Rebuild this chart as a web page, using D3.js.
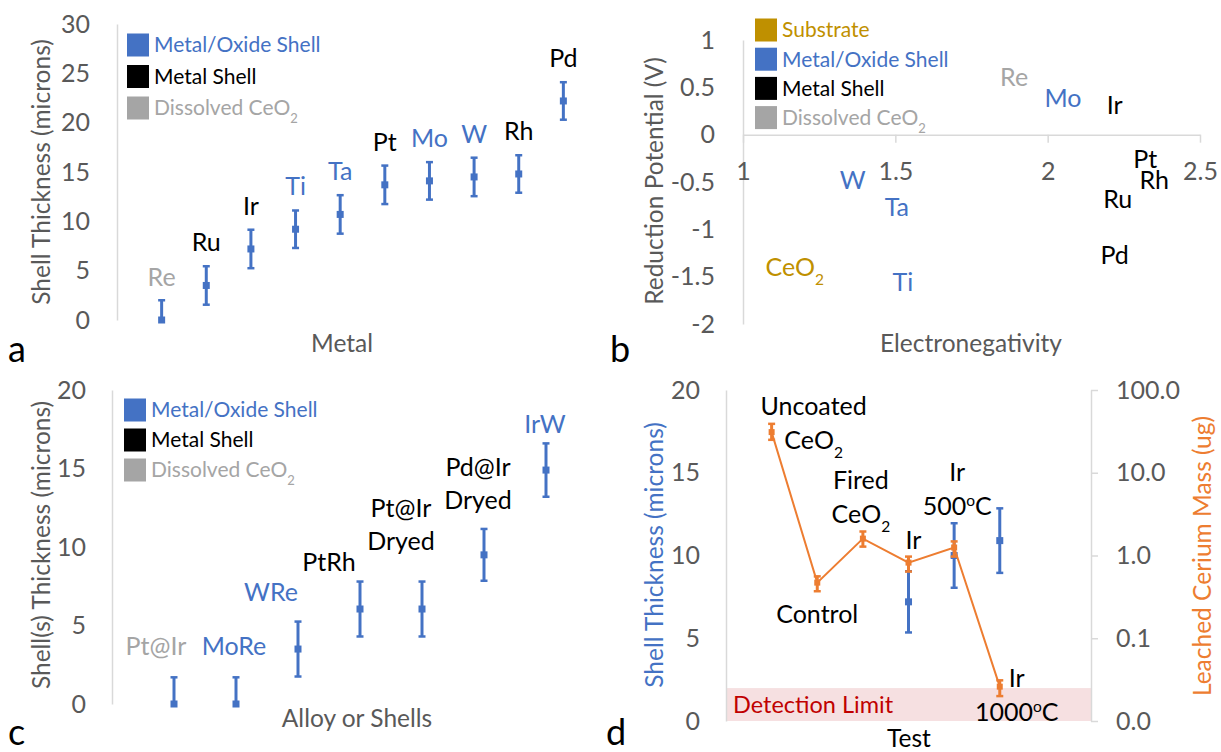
<!DOCTYPE html>
<head>
<meta charset="utf-8">
<script src="https://d3js.org/d3.v7.min.js"></script>
<style>
  body { margin:0; background:#fff; }
  svg text { font-family: Lato, "Open Sans", sans-serif; }
  .axis path, .axis line { stroke:#d9d9d9; stroke-width:1.5px; }
  .axis text { font-family: Lato, sans-serif; font-size:25px; fill:#595959; }
</style>
</head>
<body>
<svg id="fig" width="1221" height="752"></svg>
<script>
// ---------- data ----------
// a: shell thickness per metal
var aMetals    = ["Re","Ru","Ir","Ti","Ta","Pt","Mo","W","Rh","Pd"];
var aThickness = [0, 3.5, 7.2, 9.2, 10.7, 13.7, 14.1, 14.5, 14.8, 22.2];
var aError     = [2.0, 1.95, 1.95, 1.9, 1.95, 1.95, 1.9, 1.95, 1.9, 1.9];
var aType      = ["dissolved","metal","metal","oxide","oxide","metal","oxide","oxide","metal","metal"];

// b: reduction potential vs electronegativity
var bNames     = ["CeO_2","W","Ta","Ti","Re","Mo","Ir","Ru","Pd","Pt","Rh"];
var bElectro   = [1.17, 1.36, 1.505, 1.525, 1.89, 2.05, 2.22, 2.23, 2.22, 2.32, 2.35];
var bPotential = [-1.40, -0.48, -0.77, -1.56, 0.61, 0.38, 0.31, -0.68, -1.27, -0.26, -0.48];
var bType      = ["substrate","oxide","oxide","oxide","dissolved","oxide","metal","metal","metal","metal","metal"];

// c: alloys / double shells
var cNames     = ["Pt@Ir","MoRe","WRe","PtRh","Pt@Ir Dryed","Pd@Ir Dryed","IrW"];
var cThickness = [0, 0, 3.5, 6.05, 6.05, 9.5, 14.9];
var cError     = [1.7, 1.7, 1.75, 1.75, 1.75, 1.65, 1.7];
var cType      = ["dissolved","oxide","oxide","metal","metal","metal","oxide"];

// d: leaching test
var dTests     = ["Uncoated CeO_2","Control","Fired CeO_2","Ir","Ir 500^oC","Ir 1000^oC"];
var dShell     = [null, null, null, 7.2, 10.0, 10.9];
var dShellErr  = [null, null, null, 1.85, 1.95, 1.95];
var dCerium    = [31, 0.47, 1.6, 0.82, 1.25, 0.026];
var dCeriumLo  = [25, 0.37, 1.28, 0.64, 0.97, 0.020];
var dCeriumHi  = [39, 0.56, 1.95, 0.97, 1.48, 0.031];
var detectionLimit = 0.025;

var legendAll = [["substrate","Substrate"],["oxide","Metal/Oxide Shell"],["metal","Metal Shell"],["dissolved","Dissolved CeO_2"]];

// ---------- style ----------
var BLUE="#4472c4", ORANGE="#ed7d31", GOLD="#bf9000", GRAY="#a5a5a5", TXT="#595959";
var typeColor = {oxide:BLUE, metal:"#000", dissolved:GRAY, substrate:GOLD};

var svg = d3.select("#fig");

// "_x" = subscript, "^x" = superscript
function rich(sel, str) {
  str.split(/([_^].)/).forEach(function(p) {
    if (!p) return;
    if (p[0] == "_") sel.append("tspan").attr("baseline-shift","sub").attr("font-size","0.62em").text(p[1]);
    else if (p[0] == "^") sel.append("tspan").attr("baseline-shift","super").attr("font-size","0.62em").text(p[1]);
    else sel.append("tspan").text(p);
  });
}

function legend(items, x, y0, step) {
  var g = svg.append("g");
  items.forEach(function(it, i) {
    var y = y0 + i*step;
    g.append("rect").attr("x", x).attr("y", y-11.5).attr("width", 22).attr("height", 23)
      .attr("fill", typeColor[it[0]]);
    rich(g.append("text").attr("x", x+27).attr("y", y).attr("dy","0.35em")
      .attr("font-size", 21).attr("fill", typeColor[it[0]]), it[1]);
  });
}

function title(txt, x, y, color, rot, size) {
  var t = svg.append("text").attr("text-anchor","middle").attr("dy","0.35em")
    .attr("font-size", size || 24.5).attr("fill", color || TXT).text(txt);
  t.attr("transform", "translate(" + x + "," + y + ")" + (rot ? " rotate(-90)" : ""));
}

// vertical error bar with caps, clipped at a pixel floor
function errBar(g, x, top, bot, color, floor) {
  var clipped = floor != null && bot > floor;
  if (clipped) bot = floor;
  g.append("line").attr("x1",x).attr("x2",x).attr("y1",top).attr("y2",bot).attr("stroke",color).attr("stroke-width",3);
  g.append("line").attr("x1",x-3.5).attr("x2",x+3.5).attr("y1",top).attr("y2",top).attr("stroke",color).attr("stroke-width",2.5);
  if (!clipped) g.append("line").attr("x1",x-3.5).attr("x2",x+3.5).attr("y1",bot).attr("y2",bot).attr("stroke",color).attr("stroke-width",2.5);
}

// ---------- panel a ----------
var xA = d3.scalePoint().domain(aMetals).range([117, 608]).padding(1);
var yA = d3.scaleLinear().domain([0, 30]).range([320, 24]);
svg.append("g").attr("class","axis").attr("transform","translate(117,0)")
  .call(d3.axisLeft(yA).tickValues([0,5,10,15,20,25,30]).tickSize(0).tickPadding(27));
var gA = svg.append("g");
aMetals.forEach(function(m, i) {
  errBar(gA, xA(m), yA(aThickness[i]+aError[i]), yA(aThickness[i]-aError[i]), BLUE, yA(0));
});
gA.selectAll("rect").data(aMetals).enter().append("rect")
  .attr("x", function(d){return xA(d)-3.5;}).attr("y", function(d,i){return yA(aThickness[i])-3.5;})
  .attr("width", 7).attr("height", 7).attr("fill", BLUE);
gA.selectAll("text").data(aMetals).enter().append("text")
  .attr("x", function(d){return xA(d);}).attr("y", function(d,i){return yA(aThickness[i])-43;})
  .attr("dy","0.35em").attr("text-anchor","middle").attr("font-size",25)
  .attr("fill", function(d,i){return typeColor[aType[i]];}).text(function(d){return d;});
legend(legendAll.slice(1), 127, 45, 31.5);
title("Shell Thickness (microns)", 41, 172, TXT, true);
title("Metal", 342, 343);
svg.append("text").attr("x", 8).attr("y", 362).attr("font-size", 36).text("a");

// ---------- panel b ----------
var xB = d3.scaleLinear().domain([1, 2.5]).range([743, 1200]);
var yB = d3.scaleLinear().domain([-2, 1]).range([324, 40]);
svg.append("g").attr("class","axis").attr("transform","translate(743,0)")
  .call(d3.axisLeft(yB).tickValues([-2,-1.5,-1,-0.5,0,0.5,1]).tickSize(0).tickPadding(28)
    .tickFormat(function(d){return String(d);}));
svg.append("g").attr("class","axis").attr("transform","translate(0," + yB(0) + ")")
  .call(d3.axisBottom(xB).tickValues([1,1.5,2,2.5]).tickSize(8).tickSizeOuter(0).tickPadding(20)
    .tickFormat(function(d){return String(d);}));
var gB = svg.append("g");
bNames.forEach(function(n, i) {
  rich(gB.append("text").attr("x", xB(bElectro[i])).attr("y", yB(bPotential[i]))
    .attr("dy","0.35em").attr("text-anchor","middle").attr("font-size",25)
    .attr("fill", typeColor[bType[i]]), n);
});
legend(legendAll, 755, 30, 29.2);
title("Reduction Potential (V)", 654, 181, TXT, true);
title("Electronegativity", 971, 343);
svg.append("text").attr("x", 610).attr("y", 362).attr("font-size", 36).text("b");

// ---------- panel c ----------
var xC = d3.scalePoint().domain(cNames).range([112, 608]).padding(1);
var yC = d3.scaleLinear().domain([0, 20]).range([704, 390]);
svg.append("g").attr("class","axis").attr("transform","translate(112,0)")
  .call(d3.axisLeft(yC).tickValues([0,5,10,15,20]).tickSize(0).tickPadding(26));
var gC = svg.append("g");
cNames.forEach(function(m, i) {
  errBar(gC, xC(m), yC(cThickness[i]+cError[i]), yC(cThickness[i]-cError[i]), BLUE, yC(0));
  gC.append("rect").attr("x",xC(m)-3.5).attr("y",yC(cThickness[i])-3.5).attr("width",7).attr("height",7).attr("fill",BLUE);
});
// label placement (pixels from marker, last line)
var cLabelShift = [[-18,-58],[-2,-58],[-27,-57],[-31,-47],[-21,-68],[-6,-55],[-1,-46]];
cNames.forEach(function(n, i) {
  var lines = n.split(" ");
  lines.forEach(function(l, k) {
    gC.append("text").attr("x", xC(n)+cLabelShift[i][0])
      .attr("y", yC(cThickness[i]) + cLabelShift[i][1] - (lines.length-1-k)*33)
      .attr("dy","0.35em").attr("text-anchor","middle").attr("font-size",25)
      .attr("fill", typeColor[cType[i]]).text(l);
  });
});
legend(legendAll.slice(1), 124, 410, 30);
title("Shell(s) Thickness (microns)", 41, 545, TXT, true);
title("Alloy or Shells", 357, 718);
svg.append("text").attr("x", 8).attr("y", 745).attr("font-size", 36).text("c");

// ---------- panel d ----------
var xD = d3.scalePoint().domain(dTests).range([726, 1045.4]).padding(1);
var yD = d3.scaleLinear().domain([0, 20]).range([721, 390]);
var yLog = d3.scaleLog().domain([0.01, 100]).range([721, 390]);
svg.append("rect").attr("x", 727).attr("y", yLog(detectionLimit)).attr("width", 1091-727)
  .attr("height", yLog(0.01)-yLog(detectionLimit)).attr("fill", "#f6e0e1");
svg.append("text").attr("x", 733).attr("y", 705).attr("dy","0.35em").attr("font-size",23.5)
  .attr("fill","#c00000").text("Detection Limit");
var axL = svg.append("g").attr("class","axis").attr("transform","translate(726,0)")
  .call(d3.axisLeft(yD).tickValues([0,5,10,15,20]).tickSize(0).tickPadding(26));
axL.selectAll("text").attr("fill", BLUE);
axL.select("path").attr("stroke","#bfbfbf");
var axR = svg.append("g").attr("class","axis").attr("transform","translate(1091,0)")
  .call(d3.axisRight(yLog).tickValues([0.01,0.1,1,10,100]).tickSize(7).tickSizeOuter(0)
    .tickPadding(18).tickFormat(d3.format(".1f")));
axR.selectAll("text").attr("fill", ORANGE);
axR.selectAll("path,line").attr("stroke", "#a6a6a6");

var gD = svg.append("g");
dTests.forEach(function(t, i) {
  if (dShell[i] == null) return;
  errBar(gD, xD(t), yD(dShell[i]+dShellErr[i]), yD(dShell[i]-dShellErr[i]), BLUE);
  gD.append("rect").attr("x",xD(t)-3.5).attr("y",yD(dShell[i])-3.5).attr("width",7).attr("height",7).attr("fill",BLUE);
});
gD.append("path").datum(dTests)
  .attr("d", d3.line().x(function(t){return xD(t);}).y(function(t,i){return yLog(dCerium[i]);}))
  .attr("fill","none").attr("stroke",ORANGE).attr("stroke-width",2);
dTests.forEach(function(t, i) {
  errBar(gD, xD(t), yLog(dCeriumHi[i]), yLog(dCeriumLo[i]), ORANGE);
  gD.append("rect").attr("x",xD(t)-3).attr("y",yLog(dCerium[i])-3).attr("width",6).attr("height",6).attr("fill",ORANGE);
});
// label lines and placement (pixels from the cerium marker, first line)
var dLabelLines = [["Uncoated","CeO_2"],["Control"],["Fired","CeO_2"],["Ir"],["Ir","500^oC"],["Ir","1000^oC"]];
var dLabelShift = [[42,-26],[0,32],[-2,-58],[5,-22],[3,-75],[17,-8]];
dTests.forEach(function(t, i) {
  dLabelLines[i].forEach(function(l, k) {
    rich(gD.append("text").attr("x", xD(t)+dLabelShift[i][0])
      .attr("y", yLog(dCerium[i]) + dLabelShift[i][1] + k*34)
      .attr("dy","0.35em").attr("text-anchor","middle").attr("font-size",25).attr("fill","#000"), l);
  });
});
title("Shell Thickness (microns)", 654, 555, BLUE, true);
title("Leached Cerium Mass (ug)", 1202, 556, ORANGE, true);
title("Test", 909, 738, "#000");
svg.append("text").attr("x", 606).attr("y", 745).attr("font-size", 36).text("d");
</script>
</body>
